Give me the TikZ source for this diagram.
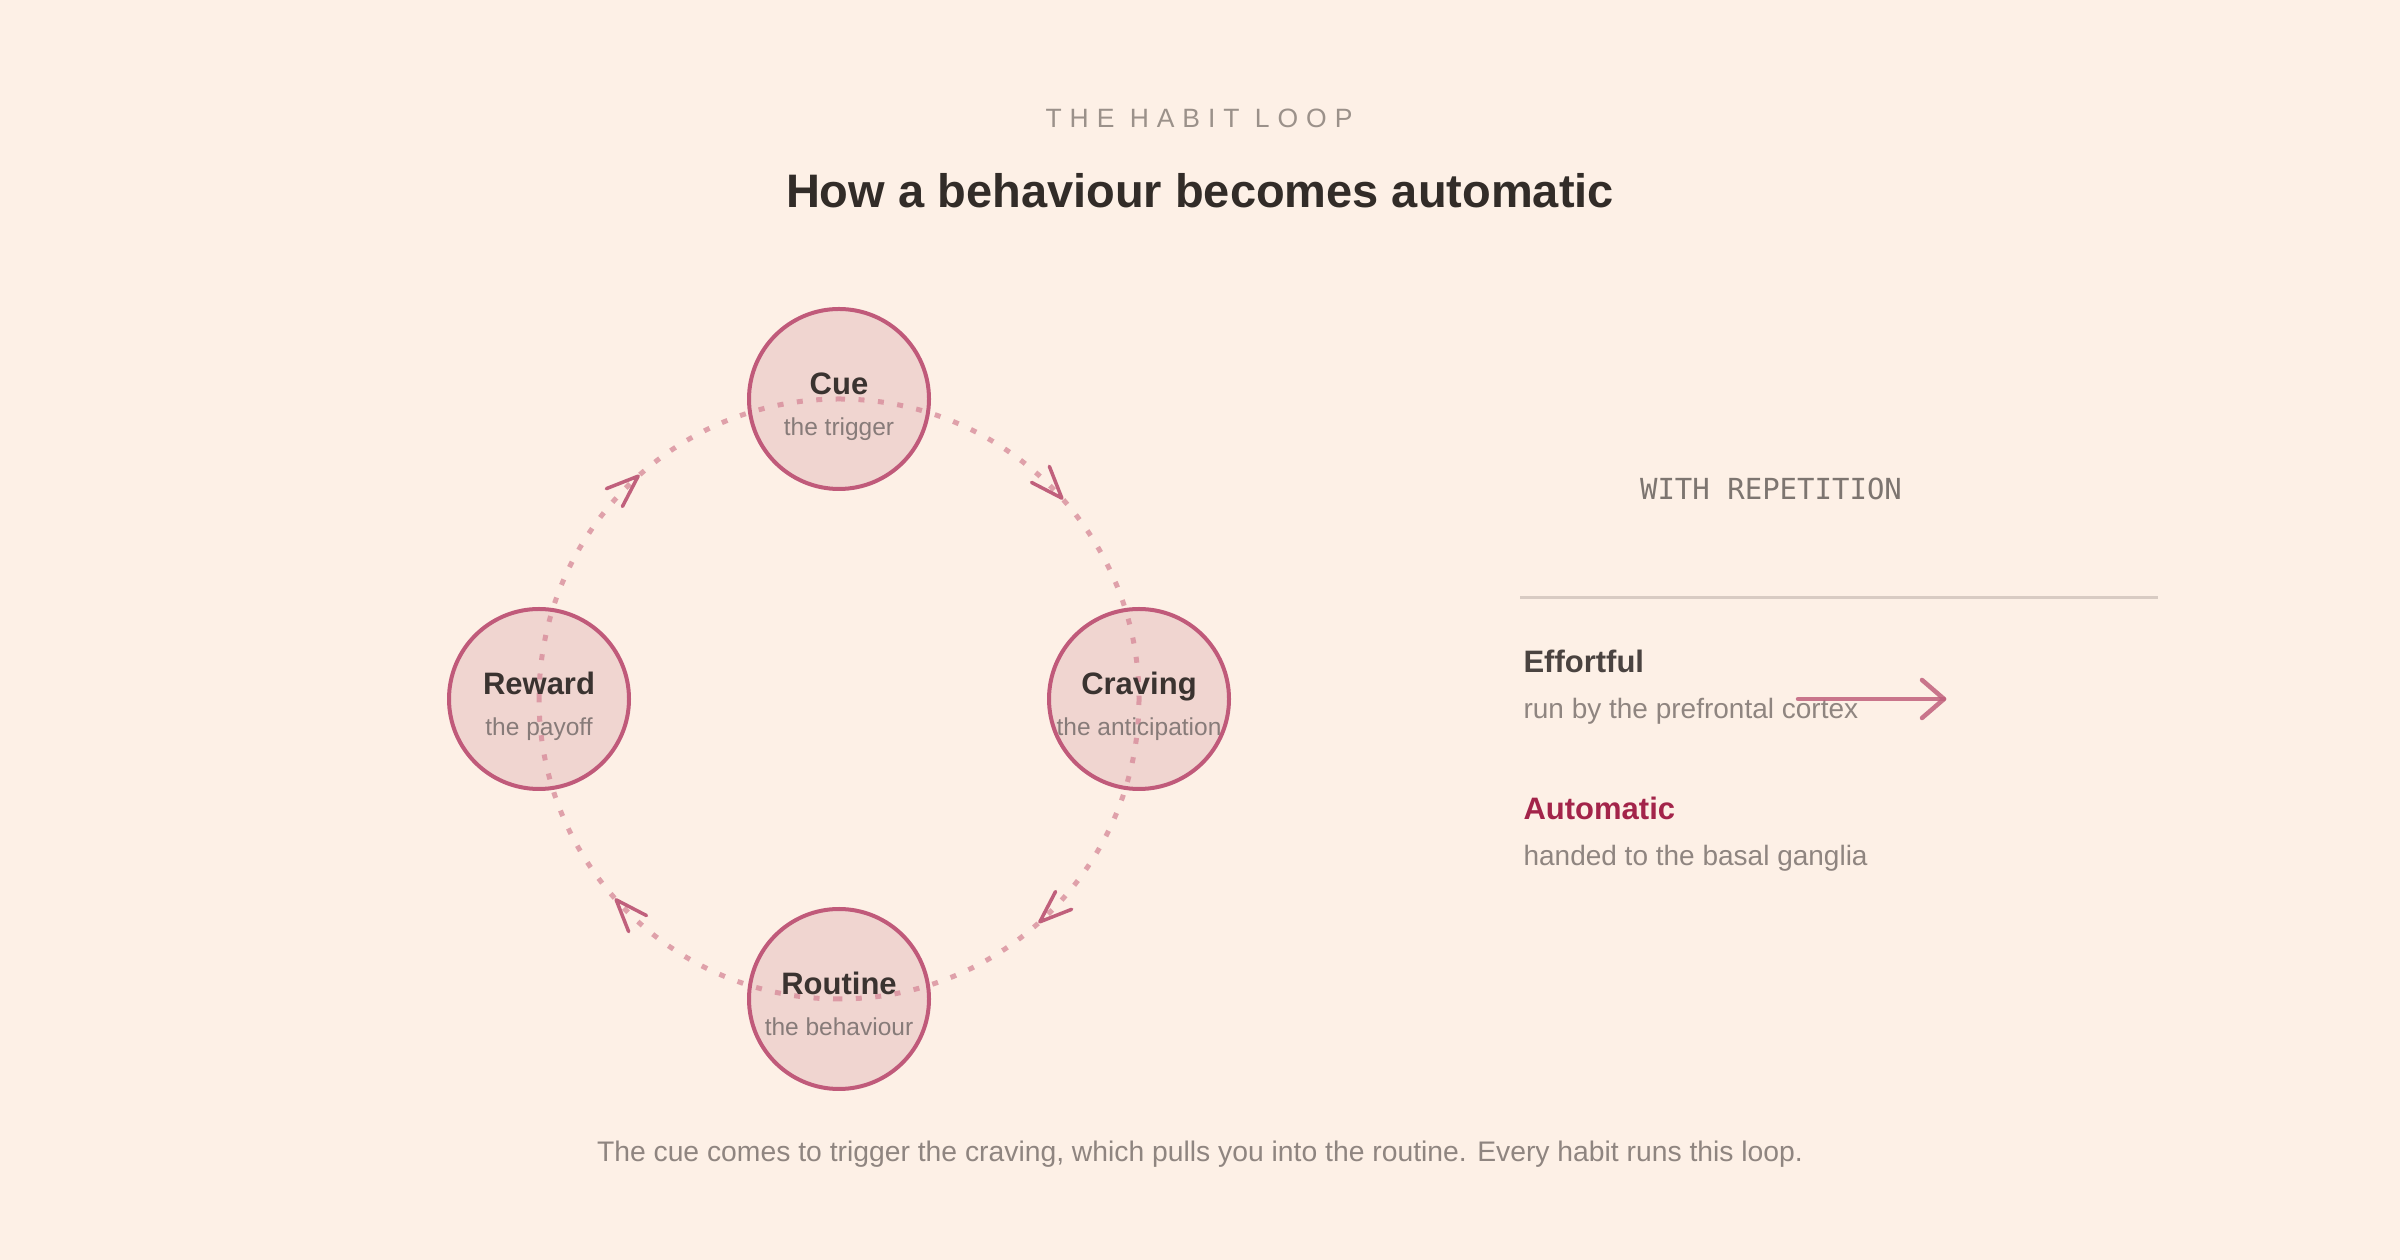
\documentclass[tikz,border=0pt]{standalone}
\usepackage{fontspec}
\setmainfont{Liberation Sans}
\newfontfamily\monofont{DejaVu Sans Mono}
\newfontfamily\spacedfont[LetterSpace=30]{Liberation Sans}
\usetikzlibrary{decorations.markings}
\definecolor{bg}{HTML}{FDF0E6}
\definecolor{titleink}{HTML}{322C28}
\definecolor{eyebrow}{HTML}{9B918A}
\definecolor{nodeline}{HTML}{C05A7A}
\definecolor{nodefill}{HTML}{F0D5D0}
\definecolor{ink}{HTML}{3A3330}
\definecolor{subink}{HTML}{877B79}
\definecolor{dotc}{HTML}{D68797}
\definecolor{arrowc}{HTML}{C0607C}
\definecolor{autoc}{HTML}{A3244A}
\definecolor{effink}{HTML}{4A4340}
\definecolor{panelsub}{HTML}{8F8580}
\definecolor{monoink}{HTML}{7D7570}
\definecolor{divider}{HTML}{D8CBC3}
\tikzset{
  stage/.style={circle, draw=nodeline, fill=nodefill, line width=4, minimum size=180, inner sep=0},
  stitle/.style={anchor=base, text=ink, font=\bfseries\fontsize{31}{36}\selectfont},
  ssub/.style={anchor=base, text=subink, font=\fontsize{24.5}{28}\selectfont},
  loopdots/.style={draw=dotc, draw opacity=0.75, line width=5, dash pattern=on 6pt off 13.5pt},
  looparrow/.style={postaction={decorate}, decoration={markings, mark=at position 0.533 with {\draw[solid, draw=arrowc, line width=3.5, line cap=round, line join=round] (-32,12) -- (0,0) -- (-32,-12);}}},
  paneltitle/.style={anchor=base west, font=\bfseries\fontsize{31}{36}\selectfont},
  panelsubtext/.style={anchor=base west, text=panelsub, font=\fontsize{28}{32}\selectfont},
}
\begin{document}
\begin{tikzpicture}[x=1pt,y=1pt]
\fill[bg] (0,0) rectangle (2400,1260);
\useasboundingbox (0,0) rectangle (2400,1260);

% header
\node[anchor=base, text=eyebrow, font=\spacedfont\fontsize{26.5}{30}\selectfont] (eyebrowT) at (1199,1132) {THE HABIT LOOP};
\node[anchor=base, text=titleink, font=\bfseries\fontsize{47}{52}\selectfont] (titleT) at (1200,1052) {How a behaviour becomes automatic};

% stages
\node[stage] (cue) at (839,861) {};
\node[stage] (craving) at (1139,561) {};
\node[stage] (routine) at (839,261) {};
\node[stage] (reward) at (539,561) {};

% loop (dotted arcs)
\draw[loopdots] (cue.center) arc[start angle=90, end angle=0, radius=300];
\draw[loopdots] (craving.center) arc[start angle=0, end angle=-90, radius=300];
\draw[loopdots] (routine.center) arc[start angle=270, end angle=180, radius=300];
\draw[loopdots] (reward.center) arc[start angle=180, end angle=90, radius=300];
% loop arrowheads
\path[looparrow] (cue.center) arc[start angle=90, end angle=0, radius=300];
\path[looparrow] (craving.center) arc[start angle=0, end angle=-90, radius=300];
\path[looparrow] (routine.center) arc[start angle=270, end angle=180, radius=300];
\path[looparrow] (reward.center) arc[start angle=180, end angle=90, radius=300];

% stage labels
\node[stitle] (cueT) at ([yshift=4.5]cue.center) {Cue};
\node[ssub] (cueS) at ([yshift=-36.5]cue.center) {the trigger};
\node[stitle] (cravingT) at ([yshift=4.5]craving.center) {Craving};
\node[ssub] (cravingS) at ([yshift=-36.5]craving.center) {the anticipation};
\node[stitle] (routineT) at ([yshift=4.5]routine.center) {Routine};
\node[ssub] (routineS) at ([yshift=-36.5]routine.center) {the behaviour};
\node[stitle] (rewardT) at ([yshift=4.5]reward.center) {Reward};
\node[ssub] (rewardS) at ([yshift=-36.5]reward.center) {the payoff};

% right panel
\node[anchor=base, text=monoink, font=\monofont\fontsize{29}{32}\selectfont] (withT) at (1771,760) {WITH REPETITION};
\coordinate (divA) at (1520,662);
\coordinate (divB) at (2158,662);
\draw[divider, line width=3] (divA) -- (divB);
\node[paneltitle, text=effink] (effT) at (1520,587) {Effortful};
\node[panelsubtext] (effS) at (1520,541) {run by the prefrontal cortex};
\node[paneltitle, text=autoc] (autoT) at (1520,440) {Automatic};
\node[panelsubtext] (autoS) at (1520,394) {handed to the basal ganglia};
\coordinate (ea) at (1798,561);
\coordinate (eb) at (1944,561);
\draw[arrowc, draw opacity=0.85, line width=4.5, line cap=round, line join=round] (ea) -- (eb);
\draw[arrowc, draw opacity=0.85, line width=4.5, line cap=round, line join=round] ([shift={(-22,19)}]eb) -- (eb) -- ([shift={(-22,-19)}]eb);

% footer
\node[anchor=base, text=panelsub, font=\fontsize{28.3}{32}\selectfont] (footT) at (1200,98) {The cue comes to trigger the craving, which pulls you into the routine. Every habit runs this loop.};
\end{tikzpicture}
\end{document}
